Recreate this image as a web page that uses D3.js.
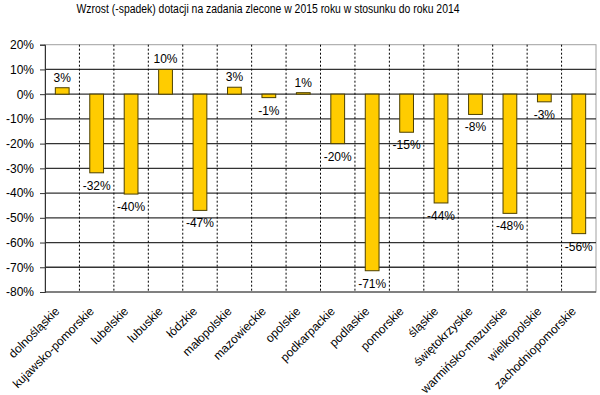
<!DOCTYPE html>
<html><head><meta charset="utf-8">
<script src="https://cdn.jsdelivr.net/npm/d3@7"></script>
<style>body{margin:0;background:#fff}svg{display:block}</style>
</head><body>
<svg id="c" width="600" height="395"></svg>
<script>
const title = "Wzrost (-spadek) dotacji na zadania zlecone w 2015 roku w stosunku do roku 2014";
const categories = ["dolnośląskie","kujawsko-pomorskie","lubelskie","lubuskie","łódzkie","małopolskie","mazowieckie","opolskie","podkarpackie","podlaskie","pomorskie","śląskie","świętokrzyskie","warmińsko-mazurskie","wielkopolskie","zachodniopomorskie"];
const values = [0.026,-0.318,-0.404,0.100,-0.470,0.028,-0.014,0.006,-0.200,-0.714,-0.154,-0.440,-0.082,-0.482,-0.031,-0.564];
const yTicks = [0.2,0.1,0,-0.1,-0.2,-0.3,-0.4,-0.5,-0.6,-0.7,-0.8];

const svg = d3.select("#c");
const L = 45, R = 596, T = 44.7, B = 292;
const font = "'Liberation Sans', Arial, sans-serif";
const x = d3.scaleBand().domain(categories).range([L, R]).paddingInner(0).paddingOuter(0);
const y = d3.scaleLinear().domain([-0.8, 0.2]).range([B, T]);
const pct = v => d3.format(".0%")(v).replace("\u2212", "-");

svg.append("text").attr("x", 268).attr("y", 12.5).attr("text-anchor", "middle")
  .attr("font-family", font).attr("font-size", 12).attr("fill", "#000")
  .attr("textLength", 383).attr("lengthAdjust", "spacingAndGlyphs").text(title);

// plot border (light)
svg.append("rect").attr("x", L).attr("y", T).attr("width", R - L).attr("height", B - T)
  .attr("fill", "none").attr("stroke", "#a0a0a0").attr("stroke-width", 1);

// horizontal gridlines
svg.append("g").selectAll("line").data(yTicks.filter(v => v < 0.2 && v > -0.8)).join("line")
  .attr("x1", L).attr("x2", R).attr("y1", d => y(d)).attr("y2", d => y(d))
  .attr("stroke", "#333").attr("stroke-width", 1.3);

// vertical dotted lines at category boundaries
svg.append("g").selectAll("line").data(categories.slice(1)).join("line")
  .attr("x1", d => x(d)).attr("x2", d => x(d)).attr("y1", T).attr("y2", B)
  .attr("stroke", "#000").attr("stroke-width", 1).attr("stroke-dasharray", "2,2");

// bars
svg.append("g").selectAll("rect").data(categories).join("rect")
  .attr("x", d => x(d) + x.bandwidth() * 0.3)
  .attr("width", x.bandwidth() * 0.4)
  .attr("y", (d, i) => y(Math.max(0, values[i])))
  .attr("height", (d, i) => Math.abs(y(values[i]) - y(0)))
  .attr("fill", "#FFCC00").attr("stroke", "#4d4000").attr("stroke-width", 1);

// y axis
const yAxis = svg.append("g").attr("transform", `translate(${L},0)`)
  .call(d3.axisLeft(y).tickValues(yTicks).tickFormat(pct).tickSize(5).tickPadding(6));
yAxis.select(".domain").attr("stroke", "#333");
yAxis.selectAll(".tick line").attr("stroke", "#333");
yAxis.selectAll("text").attr("font-family", font).attr("font-size", 12).attr("fill", "#000");

// bottom axis line
svg.append("line").attr("x1", L).attr("x2", R).attr("y1", B).attr("y2", B)
  .attr("stroke", "#333").attr("stroke-width", 1);

// value labels
svg.append("g").selectAll("text").data(categories).join("text")
  .attr("x", d => x(d) + x.bandwidth() / 2)
  .attr("y", (d, i) => values[i] >= 0 ? y(values[i]) - 6 : y(values[i]) + 17)
  .attr("text-anchor", "middle").attr("font-family", font).attr("font-size", 12).attr("fill", "#000")
  .text((d, i) => pct(values[i]));

// category labels rotated
svg.append("g").selectAll("text").data(categories).join("text")
  .attr("transform", d => `translate(${x(d) + x.bandwidth() / 2 - 2},${B + 20}) rotate(-45)`)
  .attr("text-anchor", "end").attr("font-family", font).attr("font-size", 12).attr("fill", "#000")
  .text(d => d);
</script>
</body></html>
